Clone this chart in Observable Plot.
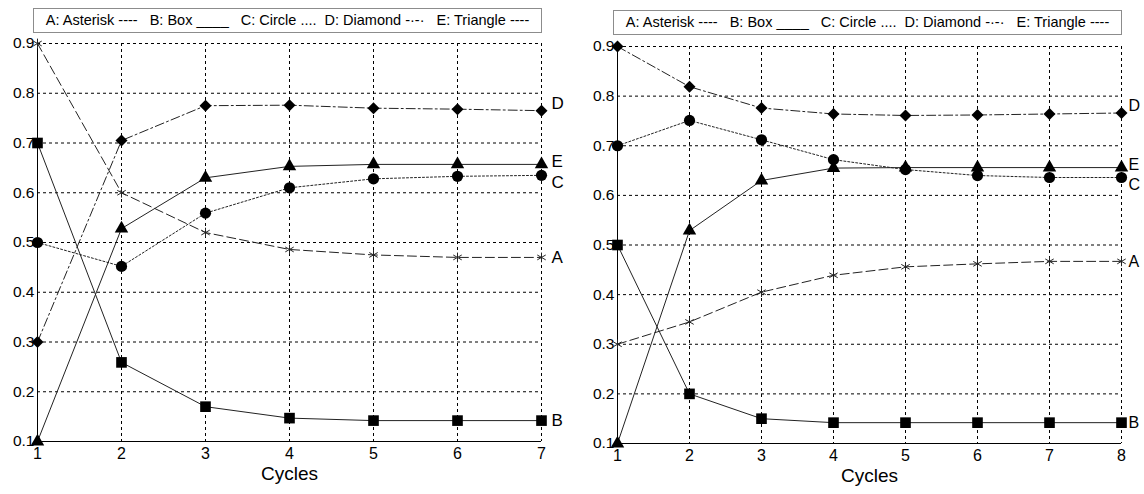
<!DOCTYPE html>
<html>
<head>
<meta charset="utf-8">
<script src="https://cdn.jsdelivr.net/npm/d3@7"></script>
<script src="https://cdn.jsdelivr.net/npm/@observablehq/plot@0.6"></script>
<style>
  html, body { margin: 0; padding: 0; background: #fff; }
  body { width: 1144px; height: 494px; position: relative; overflow: hidden; font-family: "Liberation Sans", Arial, sans-serif; }
  .legend { position: absolute; height: 25px; border: 1px solid #8c8c8c; box-sizing: border-box;
            font-size: 14.5px; line-height: 23px; color: #000; white-space: pre; text-align: center; }
  .panel { position: absolute; top: 0; }
</style>
</head>
<body>
<div id="legL" class="legend" style="left:33px; top:8px; width:509px;"></div>
<div id="legR" class="legend" style="left:613px; top:10px; width:509px;"></div>
<div id="pL" class="panel" style="left:0px;"></div>
<div id="pR" class="panel" style="left:575px;"></div>
<script>
// ---------- data ----------
const seriesNames = ["A", "B", "C", "D", "E"];
const legendText = "A: Asterisk ----   B: Box ____   C: Circle ....  D: Diamond -·-·   E: Triangle ----";
const yTicks = [0.1, 0.2, 0.3, 0.4, 0.5, 0.6, 0.7, 0.8, 0.9];

const cyclesLeft = [1, 2, 3, 4, 5, 6, 7];
const leftA = [0.9, 0.6, 0.52, 0.486, 0.475, 0.47, 0.47];
const leftB = [0.7, 0.259, 0.17, 0.147, 0.142, 0.142, 0.142];
const leftC = [0.5, 0.452, 0.559, 0.61, 0.628, 0.633, 0.635];
const leftD = [0.3, 0.705, 0.775, 0.776, 0.77, 0.768, 0.765];
const leftE = [0.1, 0.528, 0.63, 0.653, 0.657, 0.657, 0.657];

const cyclesRight = [1, 2, 3, 4, 5, 6, 7, 8];
const rightA = [0.3, 0.345, 0.405, 0.439, 0.456, 0.462, 0.467, 0.467];
const rightB = [0.5, 0.2, 0.15, 0.142, 0.142, 0.142, 0.142, 0.142];
const rightC = [0.7, 0.751, 0.712, 0.672, 0.652, 0.64, 0.636, 0.636];
const rightD = [0.9, 0.819, 0.776, 0.764, 0.761, 0.762, 0.764, 0.766];
const rightE = [0.1, 0.529, 0.63, 0.655, 0.656, 0.656, 0.656, 0.656];

// ---------- styles ----------
const style = {
  A: {symbol: "asterisk", r: 4.6, dash: "9,4", fill: "none", stroke: "#222", labelDy: 0},
  B: {symbol: "square", r: 6, dash: null, fill: "#000", stroke: "none", labelDy: 0},
  C: {symbol: "circle", r: 5.6, dash: "2,2", fill: "#000", stroke: "none", labelDy: 7},
  D: {symbol: "diamond2", r: 5.4, dash: "9,3,2,3", fill: "#000", stroke: "none", labelDy: -7},
  E: {symbol: "triangle", r: 5, dash: null, fill: "#000", stroke: "none", labelDy: -3}
};

function tidy(cycles, cols) {
  const rows = [];
  seriesNames.forEach((s, i) => cycles.forEach((c, j) => rows.push({series: s, cycle: c, value: cols[i][j]})));
  return rows;
}

function panel(cycles, cols, opts) {
  const data = tidy(cycles, cols);
  const last = d3.max(cycles);
  const marks = [
    Plot.gridY(yTicks, {stroke: "#000", strokeOpacity: 1, strokeDasharray: "3,3", strokeWidth: 1}),
    Plot.gridX(cycles, {stroke: "#000", strokeOpacity: 1, strokeDasharray: "3,3", strokeWidth: 1}),
    Plot.ruleX([1], {stroke: "#000", strokeWidth: 1}),
    Plot.ruleY([0.1], {stroke: "#000", strokeWidth: 1}),
    Plot.axisX(cycles, {tickSize: 0, tickPadding: 6, fontSize: 16, label: null}),
    Plot.axisY(yTicks, {tickSize: 0, tickPadding: 3, fontSize: 15.5, tickFormat: d => d.toFixed(1), label: null}),
    Plot.text(["Cycles"], {frameAnchor: "bottom", dy: opts.labelDy, fontSize: 19, fill: "#000"})
  ];
  for (const s of seriesNames) {
    const st = style[s];
    const sub = data.filter(d => d.series === s);
    marks.push(Plot.line(sub, {x: "cycle", y: "value", stroke: "#222", strokeWidth: 1, strokeDasharray: st.dash}));
  }
  for (const s of seriesNames) {
    const st = style[s];
    const sub = data.filter(d => d.series === s);
    marks.push(Plot.dot(sub, {x: "cycle", y: "value", symbol: () => st.symbol, r: st.r,
      fill: st.fill, stroke: st.stroke, strokeWidth: 1}));
    marks.push(Plot.text(sub.filter(d => d.cycle === last), {x: "cycle", y: "value", text: "series",
      dx: opts.endDx, dy: st.labelDy, textAnchor: "start", fontSize: opts.endFont, fill: "#000"}));
  }
  return Plot.plot({
    width: opts.width, height: 494,
    marginTop: opts.mt, marginBottom: opts.mb, marginLeft: opts.ml, marginRight: opts.mr,
    x: {domain: [1, last], axis: null},
    y: {domain: [0.1, 0.9], axis: null},
    symbol: {type: "identity"},
    style: {fontFamily: "'Liberation Sans', Arial, sans-serif", color: "#000", background: "transparent", overflow: "visible"},
    marks
  });
}

document.getElementById("legL").textContent = legendText;
document.getElementById("legR").textContent = legendText;

document.getElementById("pL").appendChild(panel(cyclesLeft, [leftA, leftB, leftC, leftD, leftE],
  {width: 575, mt: 43, mb: 53, ml: 37, mr: 34, labelDy: 38, endDx: 10, endFont: 17}));
document.getElementById("pR").appendChild(panel(cyclesRight, [rightA, rightB, rightC, rightD, rightE],
  {width: 569, mt: 46, mb: 51, ml: 42, mr: 23, labelDy: 38, endDx: 7, endFont: 16}));
</script>
</body>
</html>
